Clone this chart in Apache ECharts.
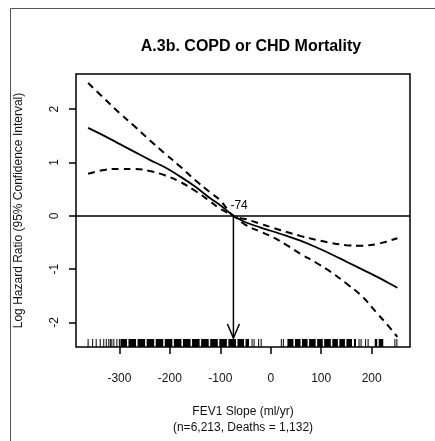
<!DOCTYPE html>
<html>
<head>
<meta charset="utf-8">
<script src="https://cdn.jsdelivr.net/npm/echarts@6/dist/echarts.min.js"></script>
<style>
  html, body { margin: 0; padding: 0; background: #fff; }
  #chart { width: 435px; height: 441px; }
</style>
</head>
<body>
<div id="chart"></div>
<script>
// FEV1 slope grid (ml/yr) and the spline fit with its 95% confidence band
const slopes = [-362, -330, -300, -270, -240, -210, -180, -150, -120, -100, -74, -50, -20, 0, 30, 60, 90, 120, 150, 180, 210, 230, 251];
const logHR  = [1.65, 1.50, 1.35, 1.20, 1.05, 0.91, 0.74, 0.55, 0.33, 0.20, 0, -0.12, -0.22, -0.28, -0.37, -0.47, -0.59, -0.72, -0.86, -1.00, -1.14, -1.24, -1.35];
const upperCI = [2.49, 2.20, 1.93, 1.68, 1.42, 1.17, 0.93, 0.67, 0.44, 0.29, 0, -0.06, -0.15, -0.21, -0.30, -0.38, -0.45, -0.51, -0.55, -0.56, -0.53, -0.48, -0.42];
const lowerCI = [0.79, 0.86, 0.88, 0.88, 0.84, 0.76, 0.64, 0.47, 0.27, 0.13, 0, -0.17, -0.30, -0.38, -0.54, -0.72, -0.88, -1.06, -1.27, -1.50, -1.82, -2.03, -2.27];

// reference slope (zero log hazard)
const refSlope = -74;

// rug of observed slopes: isolated ticks and runs that merge into solid blocks
const rugTicks = [-362, -353, -346, -338, -331, -326, -321, -318, -315, -311, -305, -300, -37, -33, -24, -19, 21, 25, 175, 179, 188, 193, 246, 250];
const rugBlocks = [[-297, -284], [-281, -266], [-263, -248], [-245, -230], [-227, -212], [-209, -194], [-191, -176], [-173, -158], [-155, -140], [-137, -122], [-119, -104], [-101, -86], [-83, -68], [-65, -52], [-49, -42], [34, 46], [49, 60], [63, 74], [77, 90], [93, 104], [107, 120], [123, 134], [137, 148], [151, 162], [166, 170], [207, 212], [215, 224]];

// axis ticks
const xTicks = [-300, -200, -100, 0, 100, 200];
const yTicks = [-2, -1, 0, 1, 2];
const xMin = -386, xMax = 276, yMin = -2.46, yMax = 2.66;

const FONT = 'Liberation Sans, Arial, Helvetica, sans-serif';
const pair = (arr) => slopes.map((x, i) => [x, arr[i]]);

const chart = echarts.init(document.getElementById('chart'), null, { renderer: 'canvas' });

const option = {
  animation: false,
  backgroundColor: '#fff',
  title: {
    text: 'A.3b. COPD or CHD Mortality',
    left: 246,
    top: 34,
    textAlign: 'center',
    textStyle: { fontFamily: FONT, fontSize: 16, fontWeight: 'bold', color: '#000' }
  },
  graphic: [{
    // page frame
    type: 'rect',
    silent: true,
    shape: { x: 10.5, y: 8.5, width: 700, height: 700 },
    style: { fill: 'none', stroke: '#555', lineWidth: 1 }
  }],
  grid: {
    left: 76, top: 74, right: 25, bottom: 80,
    show: true, borderColor: '#000', borderWidth: 1.5, backgroundColor: 'transparent'
  },
  xAxis: {
    type: 'value', min: xMin, max: xMax,
    axisLine: { show: false, onZero: false },
    splitLine: { show: false },
    axisTick: { show: true, customValues: xTicks, length: 7, lineStyle: { color: '#000', width: 1.5 } },
    axisLabel: { customValues: xTicks, margin: 26, fontSize: 12, color: '#111', fontFamily: FONT },
    name: 'FEV1 Slope (ml/yr)\n(n=6,213, Deaths = 1,132)',
    nameLocation: 'middle',
    nameGap: 57,
    nameTextStyle: { fontSize: 12, lineHeight: 16, color: '#111', fontFamily: FONT }
  },
  yAxis: {
    type: 'value', min: yMin, max: yMax,
    axisLine: { show: false, onZero: false },
    splitLine: { show: false },
    axisTick: { show: true, customValues: yTicks, length: 7, lineStyle: { color: '#000', width: 1.5 } },
    axisLabel: { customValues: yTicks, rotate: 90, margin: 15, fontSize: 12, color: '#111', fontFamily: FONT },
    name: 'Log Hazard Ratio (95% Confidence Interval)',
    nameLocation: 'middle',
    nameGap: 51,
    nameTextStyle: { fontSize: 12, color: '#111', fontFamily: FONT }
  },
  series: [
    {
      name: 'fit', type: 'line', data: pair(logHR), smooth: 0.4, symbol: 'none',
      lineStyle: { color: '#000', width: 1.8 },
      markLine: {
        silent: true, symbol: 'none', label: { show: false },
        lineStyle: { color: '#000', width: 1.5, type: 'solid' },
        data: [{ yAxis: 0 }]
      }
    },
    {
      name: 'upper', type: 'line', data: pair(upperCI), smooth: 0.4, symbol: 'none',
      lineStyle: { color: '#000', width: 2, type: [7, 5] }
    },
    {
      name: 'lower', type: 'line', data: pair(lowerCI), smooth: 0.4, symbol: 'none',
      lineStyle: { color: '#000', width: 2, type: [7, 5] }
    },
    {
      // rug of observed slopes along the bottom of the plot
      name: 'rug', type: 'custom', silent: true,
      data: rugTicks.map(v => [v, v]).concat(rugBlocks),
      renderItem: function (params, api) {
        const a = api.coord([api.value(0), yMin]);
        const b = api.coord([api.value(1), yMin]);
        const w = Math.max(1, b[0] - a[0]);
        return {
          type: 'rect',
          shape: { x: a[0] - 0.5, y: a[1] - 8, width: w, height: 8 },
          style: { fill: '#000' }
        };
      }
    },
    {
      // arrow from the reference point down to the rug, with its label
      name: 'ref', type: 'custom', silent: true,
      data: [[refSlope, 0]],
      renderItem: function (params, api) {
        const p = api.coord([api.value(0), api.value(1)]);
        const bottom = api.coord([api.value(0), yMin]);
        const tipY = bottom[1] - 9;
        return {
          type: 'group',
          children: [
            { type: 'line', shape: { x1: p[0], y1: p[1], x2: p[0], y2: tipY }, style: { stroke: '#000', lineWidth: 1.5 } },
            { type: 'polyline', shape: { points: [[p[0] - 6, tipY - 14], [p[0], tipY], [p[0] + 6, tipY - 14]] }, style: { stroke: '#000', lineWidth: 1.5, fill: 'none' } },
            { type: 'text', x: p[0] - 3, y: p[1] - 4, style: { text: String(refSlope), font: '12px ' + FONT, fill: '#000', textAlign: 'left', textVerticalAlign: 'bottom' } }
          ]
        };
      }
    }
  ]
};

chart.setOption(option);
</script>
</body>
</html>
